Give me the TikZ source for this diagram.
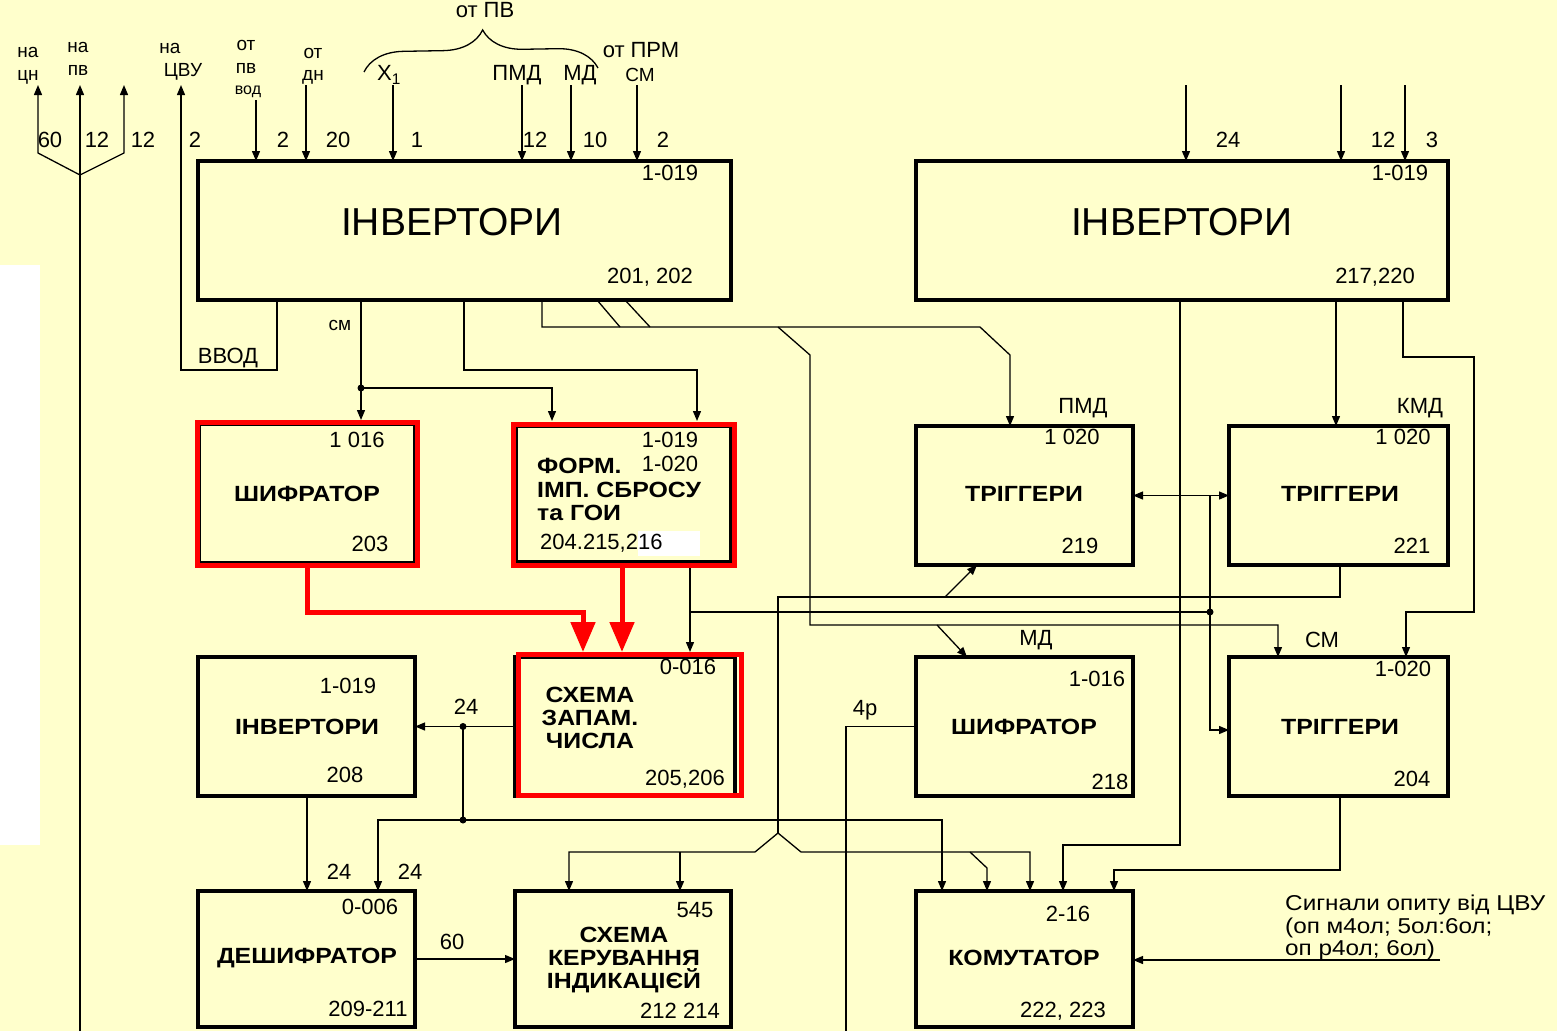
\documentclass[tikz,border=0pt]{standalone}
\usepackage{fontspec}
\setmainfont{Liberation Sans}
\newfontfamily\bkfont{Liberation Sans}[FakeStretch=1.13]
\usetikzlibrary{arrows.meta,decorations.pathreplacing}
\definecolor{bgc}{RGB}{255,255,204}
\newcommand\mybox[5]{\node[boxst, minimum width={(#4)-(#2)}, minimum height={(#5)-(#3)}] (#1) at ({((#2)+(#4))/2},{((#3)+(#5))/2}) {};}
\newcommand\myredbox[5]{\node[redboxst, minimum width={(#4)-(#2)}, minimum height={(#5)-(#3)}] (#1) at ({((#2)+(#4))/2},{((#3)+(#5))/2}) {};}
\begin{document}
\begin{tikzpicture}[x=1pt,y=-1pt,
  wire/.style={line width=1.3pt},
  arr/.style={wire,-{Triangle[length=10pt,width=8pt]}},
  darr/.style={wire,{Triangle[length=10pt,width=8pt]}-{Triangle[length=10pt,width=8pt]}},
  boxst/.style={draw,line width=4pt,inner sep=0pt,outer sep=0pt},
  redboxst/.style={draw=red,line width=5pt,inner sep=0pt,outer sep=0pt},
  redarr/.style={draw=red,line width=5pt,-{Triangle[length=30pt,width=24pt]}},
  big/.style={font=\fontsize{39}{40}\selectfont,inner sep=0pt},
  num/.style={font=\fontsize{22}{24}\selectfont,inner sep=0pt},
  bname/.style={font=\bkfont\bfseries\fontsize{22}{23}\selectfont,inner sep=0pt},
  lab/.style={font=\fontsize{19}{20}\selectfont,inner sep=0pt},
  sig/.style={font=\bkfont\fontsize{21.5}{23}\selectfont,inner sep=0pt},
  dot/.style={circle,fill,inner sep=0pt,minimum size=7pt}]
\fill[bgc] (0,0) rectangle (1557,1031);
\useasboundingbox (0,0) rectangle (1557,1031);
\fill[white] (0,265) rectangle (40,845);

% boxes
\mybox{inva}{198}{161}{731}{300}
\mybox{invb}{916}{161}{1448}{300}
\mybox{shifa}{199}{424}{415}{563}
\mybox{form}{516}{426}{731}{562}
\mybox{zapam}{515}{657}{735}{796}
\mybox{invc}{198}{657}{415}{796}
\mybox{desh}{198}{891}{415}{1027}
\mybox{ker}{515}{891}{731}{1027}
\mybox{trga}{916}{426}{1133}{565}
\mybox{trgb}{1229}{426}{1448}{565}
\mybox{shifb}{916}{657}{1133}{796}
\mybox{trgc}{1229}{657}{1448}{796}
\mybox{kom}{916}{891}{1133}{1027}

% top-left outputs
\draw[arr] (80,1031) -- (80,85);
\draw[arr] (80,175) -- (38,153) -- (38,85);
\draw[arr] (80,175) -- (124,153) -- (124,85);
\draw[arr] (277,0 |- inva.south) -- (277,370) -- (181,370) -- (181,85);
% inputs into inva
\draw[arr] (256,100) -- (256,0 |- inva.north);
\draw[arr] (306,85) -- (306,0 |- inva.north);
\draw[arr] (393,85) -- (393,0 |- inva.north);
\draw[arr] (522,85) -- (522,0 |- inva.north);
\draw[arr] (571,85) -- (571,0 |- inva.north);
\draw[arr] (637,85) -- (637,0 |- inva.north);
% inputs into invb
\draw[arr] (1186,85) -- (1186,0 |- invb.north);
\draw[arr] (1341,85) -- (1341,0 |- invb.north);
\draw[arr] (1405,85) -- (1405,0 |- invb.north);

% brace
\draw[wire,decorate,decoration={brace,amplitude=40pt,aspect=0.51}] (364,72) -- (598,68);

% below inva
\draw[arr] (361,0 |- inva.south) -- (361,420);
\node[dot] (d1) at (361,388) {};
\draw[arr] (d1.center) -- (552,388) -- (552,421);
\draw[arr] (464,0 |- inva.south) -- (464,370) -- (697,370) -- (697,421);
\draw[arr] (542,0 |- inva.south) -- (542,327) -- (980,327) -- (1010,355) -- (1010,0 |- trga.north);
\draw[wire] (597,0 |- inva.south) -- (620,327);
\draw[wire] (625,0 |- inva.south) -- (650,327);
\draw[arr] (778,327) -- (810,355) -- (810,625) -- (1278,625) -- (1278,0 |- trgc.north);
\draw[arr] (937,625) -- (967,0 |- shifb.north);

% right side
\draw[arr] (1336,0 |- invb.south) -- (1336,0 |- trgb.north);
\draw[arr] (1403,0 |- invb.south) -- (1403,357) -- (1474,357) -- (1474,612) -- (1406,612) -- (1406,0 |- trgc.north);
\draw[arr] (1180,0 |- invb.south) -- (1180,845) -- (1063,845) -- (1063,0 |- kom.north);
\draw[darr] (trga.east) -- (trgb.west);
\draw[arr] (1210,0 |- trga.east) -- (1210,730) -- (trgc.west |- 1210,730);
\node[dot] (d2) at (1210,612) {};
\draw[arr] (690,565) -- (690,652);
\draw[wire] (690,612) -- (d2.center);
\draw[wire] (1340,0 |- trgb.south) -- (1340,597) -- (778,597) -- (778,833);
\draw[arr] (945,597) -- (977,0 |- trga.south);
\draw[arr] (778,833) -- (755,852) -- (569,852) -- (569,0 |- ker.north);
\draw[arr] (680,852) -- (680,0 |- ker.north);
\draw[arr] (778,833) -- (801,852) -- (1030,852) -- (1030,0 |- kom.north);
\draw[arr] (970,852) -- (987,868) -- (987,0 |- kom.north);
\draw[arr] (1340,0 |- trgc.south) -- (1340,870) -- (1114,870) -- (1114,0 |- kom.north);
\draw[arr] (1440,960) -- (kom.east |- 0,960);
\draw[wire] (shifb.west) -- (846,0 |- shifb.west) -- (846,1031);

% lower left
\draw[arr] (zapam.west) -- (invc.east);
\node[dot] (d3) at (463,0 |- zapam.west) {};
\node[dot] (d4) at (463,820) {};
\draw[wire] (d3.center) -- (d4.center);
\draw[arr] (d4.center) -- (378,820) -- (378,0 |- desh.north);
\draw[arr] (d4.center) -- (942,820) -- (942,0 |- kom.north);
\draw[arr] (307,0 |- invc.south) -- (307,0 |- desh.north);
\draw[arr] (desh.east) -- (ker.west);

% red highlight
\myredbox{reda}{197}{422}{417}{565}
\myredbox{redb}{513}{424}{734}{565}
\myredbox{redc}{518}{654}{741}{795}
\draw[redarr] (307,0 |- reda.south) -- (307,612) -- (583,612) -- (583,652);
\draw[redarr] (622,0 |- redb.south) -- (622,652);

% texts top-left
\node[lab] (t1) at (28,52) {на};
\node[lab] (t2) at (28,77) {цн};
\node[lab] (t3) at (78,47) {на};
\node[lab] (t4) at (78,70) {пв};
\node[lab] (t5) at (170,48) {на};
\node[lab] (t6) at (183,72) {ЦВУ};
\node[lab] (t7) at (246,45) {от};
\node[lab] (t8) at (246,68) {пв};
\node[lab,font=\fontsize{16}{17}\selectfont] (t9) at (248,92) {вод};
\node[lab] (t10) at (313,53) {от};
\node[lab] (t11) at (313,77) {дн};
\node[num] (t12) at (389,75) {X\textsubscript{1}};
\node[num] (t13) at (517,75) {ПМД};
\node[num] (t14) at (580,75) {МД};
\node[lab] (t15) at (640,75) {СМ};
\node[num] (t16) at (641,50) {от ПРМ};
\node[num] (t17) at (485,10) {от ПВ};
\node[num] (n1) at (50,140) {60};
\node[num] (n2) at (97,140) {12};
\node[num] (n3) at (143,140) {12};
\node[num] (n4) at (195,140) {2};
\node[num] (n5) at (283,140) {2};
\node[num] (n6) at (338,140) {20};
\node[num] (n7) at (417,140) {1};
\node[num] (n8) at (535,140) {12};
\node[num] (n9) at (595,140) {10};
\node[num] (n10) at (663,140) {2};
\node[num] (n11) at (1228,140) {24};
\node[num] (n12) at (1383,140) {12};
\node[num] (n13) at (1432,140) {3};
\node[lab] (t18) at (340,325) {см};
\node[num] (t19) at (228,358) {ВВОД};
\node[num] (n14) at (466,707) {24};
\node[num] (n15) at (865,710) {4р};
\node[num] (n16) at (339,872) {24};
\node[num] (n17) at (410,872) {24};
\node[num] (n18) at (452,942) {60};

% inva / invb
\node[big] (a1) at (452,222) {ІНВЕРТОРИ};
\node[num] (a2) at (670,173) {1-019};
\node[num] (a3) at (650,277) {201, 202};
\node[big] (b1) at (1182,222) {ІНВЕРТОРИ};
\node[num] (b2) at (1400,173) {1-019};
\node[num] (b3) at (1375,277) {217,220};
% shifa
\node[num] (c1) at (357,440) {1 016};
\node[bname] (c2) at (307,494) {ШИФРАТОР};
\node[num] (c3) at (370,544) {203};
% form
\node[num] (f1) at (670,440) {1-019};
\node[bname,anchor=west] (f2) at (537,466) {ФОРМ.};
\node[num] (f3) at (670,464) {1-020};
\node[bname,anchor=west] (f4) at (537,490) {ІМП. СБРОСУ};
\node[bname,anchor=west] (f5) at (537,513) {та ГОИ};
\fill[white] (638,531) rectangle (700,556);
\node[num,anchor=west] (f6) at (540,543) {204.215,216};
% zapam
\node[num] (z1) at (688,667) {0-016};
\node[bname] (z2) at (590,695) {СХЕМА};
\node[bname] (z3) at (590,718) {ЗАПАМ.};
\node[bname] (z4) at (590,741) {ЧИСЛА};
\node[num] (z5) at (685,779) {205,206};
% invc
\node[num] (i1) at (348,686) {1-019};
\node[bname] (i2) at (307,727) {ІНВЕРТОРИ};
\node[num] (i3) at (345,775) {208};
% desh
\node[num] (e1) at (370,907) {0-006};
\node[bname] (e2) at (307,958) {ДЕШИФРАТОР};
\node[num] (e3) at (368,1009) {209-211};
% ker
\node[num] (k1) at (695,910) {545};
\node[bname] (k2) at (624,935) {СХЕМА};
\node[bname] (k3) at (624,958) {КЕРУВАННЯ};
\node[bname] (k4) at (624,981) {ІНДИКАЦІЄЙ};
\node[num] (k5) at (680,1011) {212 214};
% trga
\node[num] (g1) at (1083,408) {ПМД};
\node[num] (g2) at (1072,437) {1 020};
\node[bname] (g3) at (1024,494) {ТРІГГЕРИ};
\node[num] (g4) at (1080,546) {219};
% trgb
\node[num] (h1) at (1420,408) {КМД};
\node[num] (h2) at (1403,437) {1 020};
\node[bname] (h3) at (1340,494) {ТРІГГЕРИ};
\node[num] (h4) at (1412,546) {221};
% shifb
\node[num] (s1) at (1036,640) {МД};
\node[num] (s2) at (1097,679) {1-016};
\node[bname] (s3) at (1024,727) {ШИФРАТОР};
\node[num] (s4) at (1110,782) {218};
% trgc
\node[num] (r1) at (1322,640) {СМ};
\node[num] (r2) at (1403,669) {1-020};
\node[bname] (r3) at (1340,727) {ТРІГГЕРИ};
\node[num] (r4) at (1412,779) {204};
% kom
\node[num] (m1) at (1068,914) {2-16};
\node[bname] (m2) at (1024,958) {КОМУТАТОР};
\node[num] (m3) at (1063,1011) {222, 223};
% signal text
\node[sig,anchor=west] (q1) at (1285,905) {Сигнали опиту від ЦВУ};
\node[sig,anchor=west] (q2) at (1285,928) {(оп м4ол; 5ол:6ол;};
\node[sig,anchor=west] (q3) at (1285,950) {оп р4ол; 6ол)};
\end{tikzpicture}
\end{document}
